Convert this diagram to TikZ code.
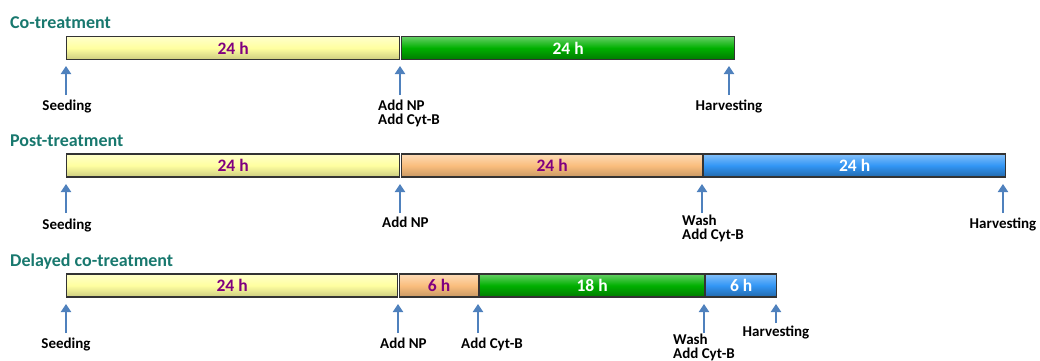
\documentclass[tikz,border=0pt]{standalone}
\usepackage{fontspec}
\setmainfont{Carlito}
\usetikzlibrary{arrows.meta}
\definecolor{titlecol}{RGB}{24,120,110}
\definecolor{durcol}{RGB}{128,0,128}
\definecolor{yel}{RGB}{255,255,160}
\definecolor{grn}{RGB}{0,176,0}
\definecolor{org}{RGB}{250,190,125}
\definecolor{blu}{RGB}{50,150,245}
\definecolor{arrcol}{RGB}{79,129,189}
\begin{document}
\begin{tikzpicture}[x=1pt,y=-1pt,
  bar/.style={draw=black!80, line width=1.2pt, minimum height=23pt, inner sep=0pt,
    anchor=west, font=\bfseries\fontsize{17.5}{17.5}\selectfont},
  yelbar/.style={bar, top color=yel!55!white, bottom color=yel!80!black, middle color=yel, text=durcol},
  orgbar/.style={bar, top color=org!55!white, bottom color=org!80!black, middle color=org, text=durcol},
  grnbar/.style={bar, top color=grn!60!white, bottom color=grn!70!black, middle color=grn, text=white},
  blubar/.style={bar, top color=blu!60!white, bottom color=blu!70!black, middle color=blu, text=white},
  ttl/.style={anchor=base west, inner sep=0pt, text=titlecol, font=\bfseries\fontsize{18}{18}\selectfont},
  lbl/.style={inner sep=0pt, align=left, font=\bfseries\fontsize{15}{14}\selectfont},
  uparr/.style={draw=arrcol, line width=2.4pt, -{Triangle[width=10pt,length=8pt]}}
]
\useasboundingbox (0,0) rectangle (1040,360);

% ---------- Row 1: Co-treatment ----------
\node[ttl] (t1) at (10,28) {Co-treatment};
\node[yelbar, minimum width=333pt] (r1a) at (66,48) {24 h};
\node[grnbar, minimum width=333pt] (r1b) at (401,48) {24 h};
\coordinate (r1s0) at (66,95);   \coordinate (r1e0) at (66,66);
\coordinate (r1s1) at (400,95);  \coordinate (r1e1) at (400,66);
\coordinate (r1s2) at (729,95);  \coordinate (r1e2) at (729,66);
\draw[uparr] (r1s0) -- (r1e0);
\draw[uparr] (r1s1) -- (r1e1);
\draw[uparr] (r1s2) -- (r1e2);
\node[lbl, anchor=base] (l1a) at (67,110.5) {Seeding};
\node[lbl, anchor=north west] (l1b) at (378,99.5) {Add NP\\Add Cyt-B};
\node[lbl, anchor=base] (l1c) at (729,110.5) {Harvesting};

% ---------- Row 2: Post-treatment ----------
\node[ttl] (t2) at (10,146) {Post-treatment};
\node[yelbar, minimum width=333pt] (r2a) at (66,165.5) {24 h};
\node[orgbar, minimum width=301pt] (r2b) at (401,165.5) {24 h};
\node[blubar, minimum width=302pt] (r2c) at (703,165.5) {24 h};
\coordinate (r2s0) at (66,213);   \coordinate (r2e0) at (66,184);
\coordinate (r2s1) at (400,213);  \coordinate (r2e1) at (400,184);
\coordinate (r2s2) at (702,213);  \coordinate (r2e2) at (702,184);
\coordinate (r2s3) at (1003,213); \coordinate (r2e3) at (1003,184);
\draw[uparr] (r2s0) -- (r2e0);
\draw[uparr] (r2s1) -- (r2e1);
\draw[uparr] (r2s2) -- (r2e2);
\draw[uparr] (r2s3) -- (r2e3);
\node[lbl, anchor=base] (l2a) at (67,229.5) {Seeding};
\node[lbl, anchor=base west] (l2b) at (382,227.5) {Add NP};
\node[lbl, anchor=north west] (l2c) at (682,215) {Wash\\Add Cyt-B};
\node[lbl, anchor=base] (l2d) at (1003,228.5) {Harvesting};

% ---------- Row 3: Delayed co-treatment ----------
\node[ttl] (t3) at (10,266) {Delayed co-treatment};
\node[yelbar, minimum width=331pt] (r3a) at (66,285.5) {24 h};
\node[orgbar, minimum width=79pt] (r3b) at (399,285.5) {6 h};
\node[grnbar, minimum width=225pt] (r3c) at (479,285.5) {18 h};
\node[blubar, minimum width=71pt] (r3d) at (705,285.5) {6 h};
\coordinate (r3s0) at (66,333);   \coordinate (r3e0) at (66,304);
\coordinate (r3s1) at (398,333);  \coordinate (r3e1) at (398,304);
\coordinate (r3s2) at (478,333);  \coordinate (r3e2) at (478,304);
\coordinate (r3s3) at (704,333);  \coordinate (r3e3) at (704,304);
\coordinate (r3s4) at (776,323);  \coordinate (r3e4) at (776,304);
\draw[uparr] (r3s0) -- (r3e0);
\draw[uparr] (r3s1) -- (r3e1);
\draw[uparr] (r3s2) -- (r3e2);
\draw[uparr] (r3s3) -- (r3e3);
\draw[uparr] (r3s4) -- (r3e4);
\node[lbl, anchor=base] (l3a) at (66,348.5) {Seeding};
\node[lbl, anchor=base west] (l3b) at (380,348.5) {Add NP};
\node[lbl, anchor=base west] (l3c) at (461,348.5) {Add Cyt-B};
\node[lbl, anchor=north west] (l3d) at (673,333.5) {Wash\\Add Cyt-B};
\node[lbl, anchor=base] (l3e) at (776,336.5) {Harvesting};
\end{tikzpicture}
\end{document}
